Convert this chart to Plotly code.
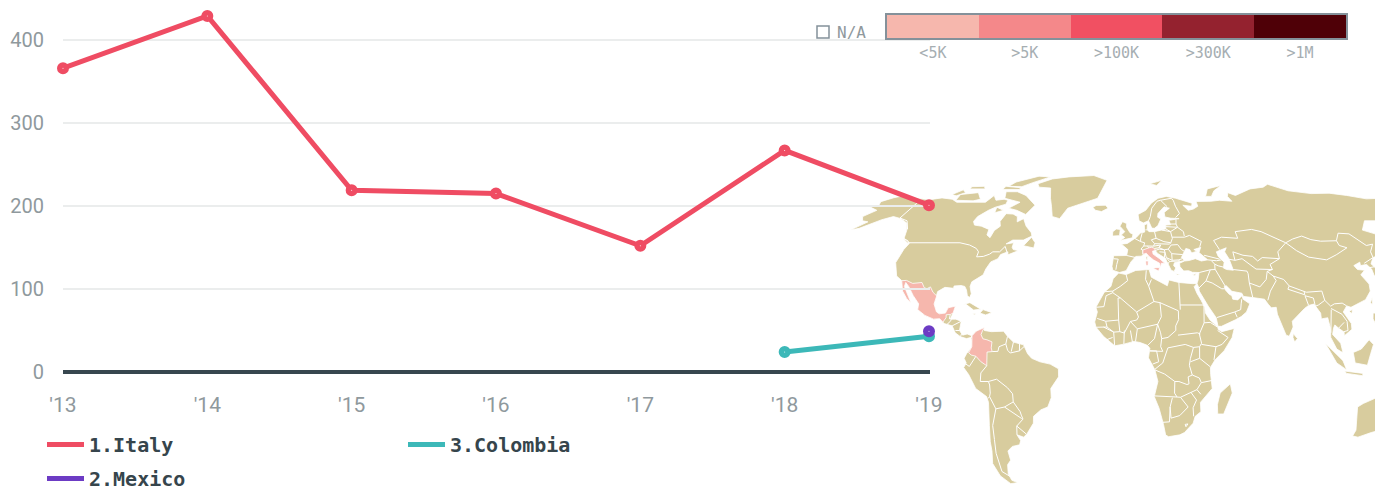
import numpy as np
import plotly.graph_objects as go

W, H = 1375, 486

# ---------- chart data ----------
YEARS = [2013, 2014, 2015, 2016, 2017, 2018, 2019]
YEAR_LABELS = ["'13", "'14", "'15", "'16", "'17", "'18", "'19"]
ITALY = [366, 429, 219, 215, 152, 267, 201]
COLOMBIA_YEARS = [2018, 2019]
COLOMBIA = [24, 43]
MEXICO_YEARS = [2019]
MEXICO = [49]
Y_TICKS = [0, 100, 200, 300, 400]

SCALE_LABELS = ["<5K", ">5K", ">100K", ">300K", ">1M"]
SCALE_COLORS = ["#f6b7ad", "#f4888a", "#f15062", "#94222f", "#4f0007"]

RED, TEAL, PURPLE = "#ef4c63", "#3cb8b8", "#6c3bc4"
LAND, PINK = "#d8cc9e", "#f6b7ad"
GREY = "#8f999d"

# ---------- map data: lon/lat outlines ----------
NORTH_AMERICA = [(-168,65.6),(-164,66.5),(-166,68.3),(-161,70.3),(-156.5,71.3),(-150,70.5),(-141,69.7),(-135,69.3),(-128,70.2),(-120,69.5),(-115,68),(-108,68),(-101,68),(-96,68),(-94,71.5),(-90,69),(-85,69.5),(-82,69),(-81.5,67),(-87,65.5),(-90,64),(-94,61),(-94.5,58.7),(-92.5,57),(-88,56.5),(-82.5,55),(-82,52.5),(-79.5,51.3),(-79,54.5),(-76.8,56.5),(-78.5,58.7),(-77.5,62.4),(-73,62.2),(-69.5,61),(-68,58.5),(-65,60),(-61.5,56.5),(-57,53.5),(-56,52),(-60,50.2),(-66,50.2),(-69,48.5),(-65,49),(-65,47),(-64,46),(-61,45.5),(-66,43.7),(-66.5,45),(-70,43.8),(-70.7,42),(-74,40.6),(-75.5,37.5),(-76,35),(-78,33.9),(-81,32),(-81.3,30),(-80,26.8),(-80.5,25.2),(-81.8,26),(-82.8,28.5),(-84,30),(-86,30.4),(-89.5,30.2),(-89.5,29.2),(-94,29.6),(-97.2,27.8),(-97.5,25),(-97.8,22.4),(-96,19),(-94.5,18.2),(-91.5,18.5),(-90.5,20.8),(-87,21.5),(-87.7,18.5),(-88.8,15.9),(-86,15.9),(-83.2,15),(-83.7,11),(-82,9),(-79.8,9.5),(-77.4,8.7),(-78,8),(-80,7.5),(-83,8.3),(-85.7,10),(-87.5,13),(-91.5,14),(-94,16.1),(-97,15.9),(-101.5,17.5),(-105.5,20),(-105.5,22.5),(-109,26),(-112.5,30),(-114.7,31.7),(-114.7,30),(-111.5,26),(-109.5,23),(-112,24.8),(-115,28),(-117.1,32.5),(-120.6,34.5),(-124.3,40.3),(-124,46),(-123,49),(-128,51),(-130,54.5),(-134,58),(-140,60),(-146,61),(-151,59.5),(-154,58),(-159,55.5),(-163,54.7),(-158,58.5),(-162,59),(-165,61),(-161,64),(-168,65.6)]
SOUTH_AMERICA = [(-77.4,8.7),(-75.5,10.7),(-72,12.2),(-71.5,11),(-68,10.5),(-62,10.7),(-60,8.5),(-57,6),(-52,4.8),(-50,1),(-48,-1),(-44,-2.5),(-39,-3.5),(-35,-5.5),(-35,-9),(-39,-14),(-39,-18),(-41,-22),(-44.5,-23.2),(-48.5,-26),(-49,-29),(-53,-33.5),(-55,-35),(-58.3,-34),(-57,-36.5),(-58,-38.3),(-62,-39),(-65,-41),(-65,-45),(-67.5,-47),(-69,-51),(-68.5,-54),(-65.5,-55),(-70,-55.5),(-74,-52),(-75.5,-46.5),(-73.5,-41),(-73,-37),(-71.5,-30),(-70.3,-20),(-71,-17.5),(-76,-14),(-79,-8),(-81.3,-5),(-80,-3),(-81,-1),(-79.8,1),(-78.5,2.5),(-77.3,4),(-77.5,6.7),(-77.8,7.5),(-77.4,8.7)]
AFRICA = [(-5.9,35.8),(-2,35.1),(3,36.9),(10,37.3),(11,34),(15,32.3),(19,30.3),(20,32.8),(25,31.7),(32,31.2),(34.2,31.3),(32.6,29.9),(33.8,27),(35.6,24),(37.2,21),(37.4,18.5),(39.5,15.5),(43.2,12.5),(43.3,11.5),(45,10.5),(51.2,11.9),(50,8),(46,2.3),(41.5,-1.7),(39.3,-5),(39.5,-8),(40.5,-14),(35,-20),(35.5,-24),(32.8,-26),(32,-29),(28,-33),(25.7,-34),(20,-34.8),(18.4,-34.1),(17,-29.5),(14.5,-22.5),(12,-17.5),(13.7,-11),(12.2,-6),(9,-0.8),(9.7,3.3),(8.5,4.6),(5,5.8),(2,6.3),(-3,5.1),(-7.5,4.4),(-13,8.5),(-16.7,12.4),(-17.4,14.7),(-16.2,19),(-17,21),(-13,27.5),(-9.7,30),(-8.7,33.3),(-5.9,35.8)]
EURASIA = [(-9,37),(-9.5,38.7),(-8.8,43.3),(-1.8,43.4),(-1.2,46),(-4.7,48.4),(-1.5,48.7),(1.5,50.2),(3.6,51.4),(6,53.4),(8.5,53.8),(8.5,57),(10.5,57.7),(10,54.9),(11,54),(14.2,54),(18.5,54.7),(21,55.2),(21.2,57),(24.3,57.2),(23.5,59.2),(28,59.6),(30,60),(25,60.2),(21.5,60.8),(21.5,63),(25.3,65),(22,65.7),(17.5,62.5),(17,60.7),(18.8,59.8),(16.5,56.7),(14.3,55.5),(12.8,55.6),(11.2,59),(8,58),(5.5,59),(5,62),(10,64),(14,67.5),(19,70),(25,71),(31,70),(41,67.5),(40,66),(34.5,66.5),(37,64),(40.5,64.6),(44,66),(44,68.4),(54,68.5),(60,69),(68,68.5),(67,71),(69,73),(73,71.5),(75,72),(81,73.5),(87,75),(98,76),(104,77.7),(113,74),(127,72.5),(140,72.7),(150,71.5),(160,69.7),(170,70),(180,69),(180,65),(178,64.5),(177,62.5),(170,60),(163,59.8),(162,56),(156.7,51),(155.6,56),(163,62),(156,61.7),(151,59),(142,59),(135.5,54.7),(141,53),(140,48),(135,43.7),(130.5,42.5),(127.5,39.8),(129.5,37),(129,35),(126.3,34.5),(126.5,37.5),(125,39.5),(121.5,39),(122,40.5),(118,39),(119,37.3),(122.5,37),(119.5,35),(122,31),(121.5,28),(118,24.3),(113.5,22.3),(110,21),(108,21.6),(105.8,19),(109,14),(109,11.5),(105,8.7),(105,10.3),(102.5,12),(100.8,13.4),(100,12),(99.3,9.3),(103,5.5),(104,1.4),(101,3),(98.3,8),(98.5,12),(97.7,16.5),(94.5,16),(94.5,18.5),(91.8,22.4),(89,21.8),(86.8,20.5),(82.3,16.6),(80,15),(80.2,12.5),(78,8.5),(76.5,9),(73,18),(72.8,21),(70.3,20.8),(69,22.3),(67.4,24.5),(61.6,25.2),(57,25.7),(56.4,27.1),(51.5,27.9),(49,30.3),(47.9,30),(48.3,28.5),(50,26.6),(51.2,26),(51.5,24.5),(54,24.2),(56.3,26),(56.7,24.5),(59.8,22.5),(57.8,19),(55,17),(52,15.6),(45,12.8),(43.3,12.8),(42.6,16.5),(39,21.5),(35,28),(34.9,29.5),(34.2,31.3),(35,32.8),(35.9,36),(32.5,36.1),(30.6,36.8),(28,36.7),(26.3,38.5),(26.2,40),(29,41),(31.4,41.2),(35,42),(38,41),(41.5,41.5),(37.5,44.7),(39,47),(35,46),(36.5,45.3),(33.5,44.5),(32.7,46),(30.7,46.5),(28.7,44),(27.6,42.5),(29,41.2),(26,40.8),(23.5,40.2),(23,39),(24,38),(23,36.5),(21.5,37),(19.5,41),(19,42.2),(15,44.3),(13.8,45.6),(12.3,45.3),(12.5,44),(16,41.9),(18.4,40),(16.6,40),(16,38),(15.7,40),(12.5,41.5),(10.3,43),(8.8,44.4),(6,43.1),(3.1,43),(0.5,40.6),(-0.3,39.5),(-2,36.8),(-5.5,36),(-9,37)]
ISLANDS = [
    [(-70,78),(-67,76),(-58,75.5),(-54,70),(-51,66),(-48,61),(-43,60),(-40,65),(-22,70),(-20,75),(-18,80),(-30,83.5),(-50,82.5),(-62,81)],
    [(-80,73.5),(-72,71.5),(-62,66.5),(-65,62),(-72,64),(-78,65),(-73,68),(-85,70),(-88,73.5)],
    [(-117,69),(-105,68.7),(-101,69.5),(-107,73),(-118,72)],
    [(-124,72),(-120,74.5),(-116,73),(-120,71.3)],
    [(-90,76.5),(-88,79),(-75,83),(-65,82.5),(-75,78.5),(-80,76.3)],
    [(-92,74.7),(-80,74.7),(-80,75.7),(-92,76.5)],
    [(-116,75),(-105,75),(-108,76.5),(-117,76.3)],
    [(-86,65.5),(-80.5,64),(-85,62.8)],
    [(-59,47.7),(-53,46.7),(-53,49),(-56,51.5)],
    [(-128,50.7),(-123.3,48.5),(-125,50)],
    [(-85,21.9),(-80,23),(-74.2,20.2),(-77.7,19.8),(-82,22.4)],
    [(-74.4,18.5),(-73,20),(-68.5,18.7),(-71.5,17.7)],
    [(-78.3,18.4),(-76.3,18.2),(-77,17.8)],
    [(-5.5,50),(1.3,51.2),(1.7,52.8),(0,53.5),(-2,56),(-2,57.7),(-4.5,58.6),(-6,56.5),(-3,54),(-5,52.5),(-3,51.4)],
    [(-10,52),(-6,52.2),(-5.7,55),(-8,55.2),(-10,54)],
    [(-24,65.5),(-22,64),(-18,63.4),(-14,65),(-16,66.5),(-22,66.4)],
    [(130.9,34),(136,35.7),(139,38),(141,41.5),(142,39),(140.7,35.5),(136,34),(131,31.2),(130,33)],
    [(140,42),(142,45.5),(145.5,43.5),(143,42)],
    [(142,46),(143,50),(142.7,54),(142,50)],
    [(120.2,23),(121.5,25.2),(121,22)],
    [(108.7,19.3),(110.5,20),(110,18.3)],
    [(120.5,18.5),(122,18.5),(122,16),(124,13),(121,13.7),(120,16)],
    [(122,7),(126,9.5),(126,6.5)],
    [(95.5,5.5),(104,-2),(106,-6),(101,-3)],
    [(109,1.5),(113,3),(117,7),(119,5),(117.5,1),(116,-4),(110,-3)],
    [(105,-6.5),(114,-7.5),(114,-8.5),(106,-7.5)],
    [(120,1),(125,1.5),(121,-1),(122,-5),(120,-5.5)],
    [(80,9.7),(82,7.5),(80.5,6),(79.8,8)],
    [(113.5,-22),(114,-26),(115.7,-32),(115,-34.5),(118,-35),(124,-33),(129,-31.7),(131.5,-31.5),(135,-34.8),(138,-35.5),(140,-38),(146,-39),(150,-37.3),(153,-30),(153,-25),(146,-19),(142.5,-11),(141,-17),(136,-15),(136.5,-12),(131,-12),(129,-15),(126,-14),(122,-18),(116,-20.5)],
    [(49.3,-12),(50.5,-16),(47,-25),(44,-25),(43.5,-21),(44.5,-16)],
    [(52,71),(56,75),(68,77),(60,74),(56,71)],
    [(15,78),(25,80),(20,77)],
    [(8.6,43),(9.5,43),(9.3,41.5),(8.7,41.5)],
    [(32.3,35),(34.5,35.6),(33.5,34.6)],
    [(23.5,35.5),(26.3,35.2),(24.5,34.9)],
]
ITALY_SHAPES = [
    [(7,43.9),(8.8,44.4),(10.3,43),(12.5,41.5),(15.7,40),(16,38),(16.6,40),(18.4,40),(16,41.9),(12.5,44),(12.3,45.3),(13.8,45.6),(13.5,46.5),(12,47),(10.5,46.8),(8.5,46.2),(7,45.8)],
    [(12.5,38),(15.5,38.2),(15,36.7),(12.5,37.6)],
    [(8.3,41),(9.7,41),(9.5,39),(8.5,39)],
]
MEXICO_SHAPE = [(-117.1,32.5),(-114.7,32.6),(-111,31.3),(-108.2,31.5),(-106.4,31.7),(-104.5,29.5),(-103,29),(-101.4,29.8),(-99.5,27.5),(-97.2,25.9),(-97.8,22.4),(-96,19),(-94.5,18.2),(-91.5,18.5),(-90.5,20.8),(-87,21.5),(-87.7,18.5),(-89,17.9),(-91,17.8),(-90.9,16.5),(-92.2,14.6),(-94,16.1),(-97,15.9),(-101.5,17.5),(-105.5,20),(-105.5,22.5),(-109,26),(-112.5,30),(-114.7,31.7),(-114.7,30),(-111.5,26),(-109.5,23),(-112,24.8),(-115,28)]
COLOMBIA_SHAPE = [(-71.3,12.4),(-72.3,11.1),(-73,9.2),(-72,7.4),(-70,7),(-67.5,6.1),(-67.8,3.5),(-67.3,1.9),(-69.8,1.7),(-69.8,-0.3),(-70,-4.2),(-72.9,-2.4),(-75.2,-0.1),(-77.5,0.4),(-78.8,1.4),(-77.3,4),(-77.5,6.7),(-77.4,8.7),(-75.5,10.7)]
CASPIAN = [(47,45),(53,46.8),(51.5,45),(53,42),(54,37),(50.5,37.3),(49,38),(50,40.5),(47.5,43)]
BORDERS = [
    # North and Central America
    [(-123,49),(-95,49),(-89,48),(-84.5,46.5),(-82.5,45),(-82.5,42.8),(-79,43),(-76,44),(-74.7,45),(-71,45),(-69,47.4),(-67.8,45.7),(-67,44.9)],
    [(-141,69.7),(-141,60.3),(-135,59),(-130,55)],
    [(-89,17.9),(-89.2,15.9)], [(-90,13.8),(-89.2,14.3),(-88,15.8)], [(-87.5,13),(-83.2,15)],
    [(-85.7,11),(-83.7,11)], [(-83,8.3),(-82.6,9.6)],
    # South America
    [(-60,8.5),(-60.7,5.2),(-64,4),(-64.5,2),(-67.3,1.9)], [(-57,6),(-58,1.9)], [(-60.7,5.2),(-59.8,2.5),(-58.5,1.3),(-54,2.2),(-51.6,4.2)],
    [(-54,5.8),(-54,2.2)], [(-80.3,-3.4),(-78.5,-4.5),(-75.2,-0.1)], [(-70,-4.2),(-73,-7.3),(-73.5,-11),(-69.5,-11),(-69,-12.5),(-69,-16),(-69.5,-17.5),(-70.3,-18.3)],
    [(-69.5,-11),(-65.4,-10),(-60.3,-13.7),(-58,-16.3),(-58,-19.8),(-62.6,-22),(-67,-22.8),(-68.5,-19.5),(-69.5,-17.5)],
    [(-67,-22.8),(-69.8,-30),(-70.5,-36),(-71.7,-42),(-72,-50),(-68.5,-52.3)], [(-62.6,-22),(-57.6,-25.3),(-54.6,-27)], [(-58,-19.8),(-55,-24),(-54.6,-25.5),(-54,-27.2),(-57.6,-30.2),(-58.3,-34)], [(-57.6,-30.2),(-53.4,-33.7)],
    # Africa
    [(-2,35.1),(-1.2,32.5),(-5,30),(-8.7,28),(-13,27.7)], [(-8.7,28),(-8.7,27.3),(-4.8,25),(1,21),(3.3,19),(4.2,16.8)], [(-8.7,27.3),(-12,26),(-13,21.3),(-17,21)],
    [(-4.8,25),(-6,25),(-5.6,15.5),(-12,15),(-16.2,16.2)], [(8.5,36.9),(8,33),(9.5,30.2),(12,23.5),(15,23),(24,19.5),(24,15.7),(22.5,13),(22.5,11)], [(11,33),(9.5,30.2)],
    [(25,31.7),(25,20)], [(25,22),(36.9,22)], [(3.3,19),(12,23.5)], [(15,23),(15.5,16.9),(13.6,13.7),(15,10),(15.5,7.5),(18.6,8),(22.5,11)],
    [(13.6,13.7),(3.6,11.7),(0.2,14.9),(3.3,15.5),(4.2,16.8)], [(3.6,11.7),(2.7,6.3)], [(13.6,13.7),(12,7.5),(8.7,4.6)], [(9.7,2.2),(16,2),(15,4),(15.5,7.5)],
    [(-5.6,15.5),(-5,10.5),(-8,10.3),(-11.3,12.5),(-12,15)], [(0.2,14.9),(-2.8,9.9),(-5,10.5)], [(-3,5.1),(-2.8,11)], [(1.2,6),(0.2,11)], [(-13,12.5),(-8,10.3),(-7.5,4.4)], [(-11.5,7),(-8.5,8)], [(-16.7,12.4),(-11.3,12.5)],
    [(23.5,9),(33,10),(34.5,9.5)], [(36.9,22),(36.5,14.3),(34,9.5),(35,5.5),(34,4),(34,-1),(39.3,-4.7)], [(36.5,14.3),(39.5,14.5),(43,12.5)], [(43,11),(48,8),(45,5),(42,4),(41,-1.7)], [(35,5),(42,4)],
    [(18.5,3.5),(27,5),(31,3.7),(34,4)], [(18.5,3.5),(16,-3),(12.2,-5.7)], [(12.2,-6),(17,-7.8),(22,-11),(24,-11),(28,-12.3),(29,-12),(28.5,-9),(30.5,-8.2)], [(31,3.7),(29.5,-1),(29,-4),(30.5,-8.2),(34,-9.5),(35,-11.5),(40.5,-10.5)],
    [(34,-1),(29.5,-2.5)], [(12,-17.2),(23.3,-17.7)], [(22,-11),(22,-16),(23.3,-17.7),(25,-17.8),(29,-22),(25,-25.7),(20.7,-26.8),(20,-22),(21,-18)], [(20,-22),(20,-28.4),(16.5,-28.6)], [(25,-17.8),(30,-15.6),(33,-14.5),(35,-11.5)],
    [(30,-15.6),(33,-19),(31.5,-22.3),(32,-26)], [(33,-14.5),(35,-16.5)], [(28,-29.5),(29.4,-29.3),(28.5,-30.5),(28,-29.5)], [(9.7,2.2),(13,2.2),(14,-2.5),(11,-3.5)],
    # Europe
    [(-1.8,43.4),(3.1,42.5)], [(-8.8,42),(-6.3,41.8),(-7,39.5),(-7.4,37.2)], [(2.5,51),(6,49.5),(8.2,49),(7.6,47.6),(6,46.2),(7,45.8),(7,43.9)], [(7,53.3),(6,50.7),(6,49.5)],
    [(9,54.8),(9.8,54.8)], [(14.2,54),(14.8,51),(12,50.3),(13.7,48.6),(13,47.5),(9.6,47.5),(7.6,47.6)], [(10.5,46.8),(9.6,47.5)], [(13,47.5),(17,48),(16,46.8),(13.5,46.5)],
    [(14.8,51),(19,49.5),(22.8,49),(24,51),(23.5,54),(18.5,54.7)], [(13.7,48.6),(17,48.6),(22,48.4),(22.8,49)], [(17,48),(16,46.8),(18.8,45.9),(21,46.2),(22.8,48)],
    [(22.8,48),(26.5,48.2),(28.2,46),(29.7,45.2)], [(21,46.2),(22.6,44.2),(28.5,43.8)], [(22.6,44.2),(22.5,41.3),(26,41.5),(28,42)], [(26.3,40.9),(26,41.5)], [(20,39.7),(21,40.8),(26.3,41)],
    [(13.5,45.5),(16,46.2),(18.8,45.9),(19.5,42.5),(22.5,41.3)], [(19.5,42.5),(21,40.8)], [(16,45),(19,44.8),(18.5,42.5)], [(21,56.3),(28,56)], [(24.3,57.5),(27.5,57.5)],
    [(21,55.2),(23.5,54),(28,56),(27.5,57.5),(28,59.6)], [(24,51.5),(31,51.5),(34,52.3),(40,49.6),(38.5,47.2)], [(28,56),(31,54),(31,52)],
    [(11.2,59),(12.5,61),(14,65),(18,68.5),(20.5,69),(28,70),(29,69),(29.5,66),(31,62.5),(28,60.5)], [(20.5,69),(24,66),(24,65.8)],
    # Asia
    [(40,43.5),(48,41.8)], [(41.5,41.5),(46,41.1),(49,41.5)], [(43.5,41),(44.8,39.6),(46.5,38.9),(48.9,38.4)],
    [(49,46),(47,50),(52,51.5),(61,51),(61,54),(71,55),(76,54),(87,49),(92,50.7),(98,52),(102,50.4),(107,49.7),(116,49.9),(120,53.3),(126,53),(131,47.8),(135,48.4),(131,45),(130.5,42.5)],
    [(87,49),(91,45.5),(96,42.7),(105,41.5),(111.5,43.7),(119.5,46.8),(116,47.8),(116,49.9)], [(87,49),(80.5,45),(80,42),(74,39.5),(74.5,37.3)], [(124,40),(128,41.5),(130.5,42.5)], [(125,38),(128.5,38.5)],
    [(52.5,41.8),(56,41.3),(56,45),(61,43.5),(66,43),(68,41),(71,42.5),(80,42)], [(56,41.3),(60,42),(66,37.5)], [(54,37.3),(61,36.6),(61.3,35.5),(61,31.5),(66,29.8),(70,33),(71.5,36.5),(74.5,37.3),(66,37.5)],
    [(61,31.5),(61.6,25.2)], [(71.5,36.5),(74,34.5),(75,32.5),(71,28),(69,24)], [(74,34.5),(79,33),(81,30.2),(88,28),(89,27.5),(97,28),(97.5,24),(94,22),(92.5,21.5)], [(81,30.2),(80,28.8),(88,26.4),(88,28)], [(88,26),(89,22)], [(88,26),(92,25),(92.4,21)],
    [(97.5,24),(100,21.5),(102,22.5),(106,22.8),(108,21.6)], [(100,20.5),(105,18),(107,15),(107,11),(105,10.5)], [(98.5,10),(100,20)], [(102.5,12),(105.5,14.5)],
    [(44.5,37.5),(46,34.5),(48.5,30)], [(44.8,39.6),(44.5,37.5)], [(36,36),(42,37.2),(44.5,37.3)], [(42,37.2),(39,32.4)], [(35,29.3),(39,32.4),(42,31.5),(46.5,29),(48,29)],
    [(52,19),(55,20),(55.5,22.5),(56,24.5)], [(52,19),(53,16.7)], [(43,16.6),(52,19)],
]

# Robinson projection table (every 5 degrees of latitude)
ROB_LAT = list(range(0, 95, 5))
ROB_X = [1, .9986, .9954, .99, .9822, .973, .96, .9427, .9216, .8962, .8679, .835, .7986, .7597, .7186, .6732, .6213, .5722, .5322]
ROB_Y = [0, .062, .124, .186, .248, .31, .372, .434, .4958, .5571, .6176, .6769, .7346, .7903, .8435, .8936, .9394, .9761, 1]


def project(points):
    a = np.array(points, dtype=float)
    lam, lat = np.radians(a[:, 0]), a[:, 1]
    x = lam * np.interp(np.abs(lat), ROB_LAT, ROB_X)
    y = np.sign(lat) * np.interp(np.abs(lat), ROB_LAT, ROB_Y)
    return x, y


def joined(shapes, close=True):
    xs, ys = [], []
    for s in shapes:
        x, y = project(s)
        xs += list(x) + ([x[0]] if close else []) + [None]
        ys += list(y) + ([y[0]] if close else []) + [None]
    return xs, ys


fig = go.Figure()


def add_area(shapes, color):
    x, y = joined(shapes)
    fig.add_trace(go.Scatter(x=x, y=y, mode="lines", fill="toself", fillcolor=color,
                             line=dict(color="#ffffff", width=0.8), hoverinfo="skip",
                             showlegend=False, xaxis="x", yaxis="y"))


add_area([NORTH_AMERICA, SOUTH_AMERICA, AFRICA, EURASIA] + ISLANDS, LAND)
add_area([CASPIAN], "#ffffff")
bx, by = joined(BORDERS, close=False)
fig.add_trace(go.Scatter(x=bx, y=by, mode="lines", line=dict(color="#ffffff", width=1),
                         hoverinfo="skip", showlegend=False, xaxis="x", yaxis="y"))
add_area(ITALY_SHAPES + [MEXICO_SHAPE, COLOMBIA_SHAPE], PINK)

# chart series: lines carry the legend, markers sit on top
SERIES = [("1.Italy", YEARS, ITALY, RED, "legend", "a"),
          ("3.Colombia", COLOMBIA_YEARS, COLOMBIA, TEAL, "legend2", "c"),
          ("2.Mexico", MEXICO_YEARS, MEXICO, PURPLE, "legend", "b")]
for name, xs, ys, color, leg, grp in SERIES:
    fig.add_trace(go.Scatter(x=xs, y=ys, name=name, mode="lines", line=dict(color=color, width=5),
                             legend=leg, legendgroup=grp, cliponaxis=False, xaxis="x2", yaxis="y2"))
for name, xs, ys, color, leg, grp in SERIES:
    fig.add_trace(go.Scatter(x=xs, y=ys, mode="markers", showlegend=False, cliponaxis=False,
                             marker=dict(size=6.5, color="#ffffff", line=dict(color=color, width=5.5)),
                             xaxis="x2", yaxis="y2"))

# colour scale
n = len(SCALE_COLORS)
colorscale = []
for i, c in enumerate(SCALE_COLORS):
    colorscale += [[i / n, c], [(i + 1) / n, c]]
fig.add_trace(go.Heatmap(z=[list(range(n))], x=list(range(n)), y=[0], zmin=-0.5, zmax=n - 0.5,
                         colorscale=colorscale, showscale=False, hoverinfo="skip",
                         xaxis="x3", yaxis="y3"))

legend_font = dict(family="DejaVu Sans Mono", size=20, color="#36454c", weight="bold")
px_y = 0.83  # px per unit
sx, sy, cx, cy = 117.4, 187.0, 1130, 356
fig.update_layout(
    width=W, height=H, autosize=False, margin=dict(l=0, r=0, t=0, b=0, autoexpand=False),
    paper_bgcolor="#ffffff", plot_bgcolor="rgba(0,0,0,0)",
    xaxis=dict(domain=[0, 1], range=[(0 - cx) / sx, (W - cx) / sx], visible=False, fixedrange=True),
    yaxis=dict(domain=[0, 1], range=[(cy - H) / sy, cy / sy], visible=False, fixedrange=True),
    xaxis2=dict(domain=[63 / W, 930 / W], range=[2013, 2019.007], anchor="y2", tickmode="array",
                tickvals=YEARS, ticktext=YEAR_LABELS, showgrid=False, zeroline=False, showline=False,
                ticks="outside", ticklen=14, tickcolor="rgba(0,0,0,0)",
                tickfont=dict(family="Roboto", size=21, color=GREY)),
    yaxis2=dict(domain=[(H - 372) / H, 1], range=[0, 372 / px_y], anchor="x2", tickmode="array",
                tickvals=Y_TICKS, showgrid=True, gridcolor="#ebeded", gridwidth=2,
                zeroline=True, zerolinecolor="#37474f", zerolinewidth=3.5, showline=False,
                ticks="outside", ticklen=14, tickcolor="rgba(0,0,0,0)",
                tickfont=dict(family="Roboto", size=20, color=GREY)),
    xaxis3=dict(domain=[887 / W, 1346 / W], range=[-0.5, n - 0.5], anchor="y3", tickmode="array",
                tickvals=list(range(n)), ticktext=SCALE_LABELS, showgrid=False, zeroline=False,
                showline=True, mirror=True, linecolor="#84919a", linewidth=2, ticks="",
                tickfont=dict(family="DejaVu Sans Mono", size=15, color="#a6aeb2")),
    yaxis3=dict(domain=[(H - 38) / H, (H - 15) / H], range=[-0.5, 0.5], anchor="x3", showticklabels=False,
                ticks="", showgrid=False, zeroline=False, showline=True, mirror=True,
                linecolor="#84919a", linewidth=2),
    legend=dict(x=42 / W, y=(H - 425) / H, xanchor="left", yanchor="top", orientation="v",
                traceorder="grouped", tracegroupgap=5, itemwidth=37, itemsizing="constant",
                font=legend_font, bgcolor="rgba(0,0,0,0)"),
    legend2=dict(x=403 / W, y=(H - 425) / H, xanchor="left", yanchor="top", orientation="v",
                 itemwidth=37, font=legend_font, bgcolor="rgba(0,0,0,0)"),
    shapes=[dict(type="rect", xref="paper", yref="paper", x0=817 / W, x1=829 / W,
                 y0=(H - 38) / H, y1=(H - 26) / H, line=dict(color="#84919a", width=1.5))],
    annotations=[dict(text="N/A", xref="paper", yref="paper", x=835 / W, y=(H - 33) / H,
                      xanchor="left", yanchor="middle", showarrow=False,
                      font=dict(family="DejaVu Sans Mono", size=16, color=GREY))],
)

fig.write_html("out.html", config={"displayModeBar": False},
               post_script="document.body.style.margin='0';document.body.style.overflow='hidden';")
